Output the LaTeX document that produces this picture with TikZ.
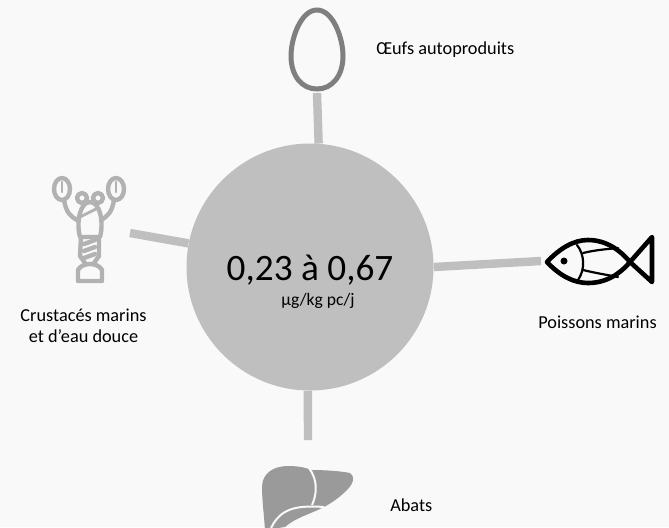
\documentclass[tikz,border=0pt]{standalone}
\usepackage{fontspec}
\setmainfont{Carlito}
\usetikzlibrary{positioning,calc,backgrounds}
\definecolor{hubgrey}{HTML}{BFBFBF}
\definecolor{eggrey}{HTML}{7F7F7F}
\definecolor{crustgrey}{HTML}{B2B2B2}
\definecolor{livergrey}{HTML}{9A9A9A}
\definecolor{paper}{HTML}{F9F9F9}
\begin{document}
\begin{tikzpicture}[x=0.25mm, y=-0.25mm,
    every node/.style={font=\fontsize{13}{15}\selectfont, text=black, align=center, inner sep=0pt},
    spoke/.style={hubgrey, line width=2.1mm},
    crust/.style={crustgrey, line width=1.1mm, line cap=round, line join=round},
    fishline/.style={black, line cap=round, line join=round}]
        \clip (0,0) rectangle (669,527);
        \fill[paper] (0,0) rectangle (669,527);

        % Central disc
        \node[circle, fill=hubgrey, minimum size=247*0.25mm] (hub) at (310,267) {};
        \node[font=\fontsize{26.5}{28}\selectfont, anchor=base] (dose) at (310,280) {0,23 à 0,67};
        \node[font=\fontsize{12.5}{14}\selectfont, anchor=base] (unit) at (318,305) {µg/kg pc/j};

        % Connectors
        \coordinate (eggEnd) at (317,93);
        \coordinate (crustEnd) at (130,233);
        \coordinate (fishEnd) at (541,261);
        \coordinate (liverEnd) at (308,440);
        \draw[spoke] (hub.86.75) -- (eggEnd);
        \draw[spoke] (hub.169.5) -- (crustEnd);
        \draw[spoke] (hub.0.9) -- (fishEnd);
        \draw[spoke] (hub.-91) -- (liverEnd);

        % Egg
        \draw[eggrey, line width=1.25mm] (317,10) .. controls (333,10) and (343,38) .. (343,56)
            .. controls (343,76) and (332,89) .. (317,89)
            .. controls (302,89) and (291,76) .. (291,56)
            .. controls (291,38) and (301,10) .. (317,10) -- cycle;

        % Crustacean
        \foreach \x/\s in {62/1,116/-1} {
            \draw[crust] (\x,189) ellipse (8 and 11);
            \draw[crust, line width=0.6mm] (\x,182) -- (\x,192);
            \draw[crust] (\x+2*\s,200) .. controls (\x+4*\s,212) and (\x+8*\s,216) .. (\x+15*\s,220);
        }
        \draw[crust] (82,198) circle (5);
        \draw[crust] (98,198) circle (5);
        \draw[crust] (80,237) .. controls (76,222) and (80,202) .. (90,202)
            .. controls (100,202) and (104,222) .. (100,237) -- cycle;
        \draw[crust, line width=0.7mm] (80,217) -- (98,208);
        \draw[crust] (81,237) -- (80,256) -- (85,263);
        \draw[crust] (99,237) -- (99,256) -- (94,263);
        \foreach \y in {243,250,257} {
            \draw[crust] (84,\y+1) -- (95,\y-3);
        }
        \draw[crust] (78,281) -- (102,281) -- (102,270) .. controls (100,266) and (95,264) .. (90,264)
            .. controls (85,264) and (80,266) .. (78,270) -- cycle;

        % Fish
        \draw[fishline, line width=1.15mm] (547,262) .. controls (560,248) and (574,240) .. (588,240)
            .. controls (606,240) and (620,250) .. (630,262)
            -- (652,237) -- (652,282) -- (630,262)
            .. controls (620,274) and (606,283) .. (588,283)
            .. controls (574,283) and (560,276) .. (547,262) -- cycle;
        \fill[black] (564,261) circle (3.5);
        \draw[fishline, line width=0.55mm] (577,245) .. controls (585,255) and (585,270) .. (578,280);
        \draw[fishline, line width=0.55mm] (583,253) .. controls (595,250) and (608,249) .. (618,248);
        \draw[fishline, line width=0.55mm] (583,270) .. controls (595,273) and (608,275) .. (618,277);

        % Liver
        \fill[livergrey] (262,487) .. controls (262,473) and (274,466) .. (288,466)
            .. controls (296,466) and (304,467) .. (312,470)
            .. controls (325,470) and (340,471) .. (350,473)
            .. controls (355,476) and (354,483) .. (347,490)
            .. controls (340,497) and (332,503) .. (322,508)
            .. controls (310,514) and (295,518) .. (285,527)
            -- (265,530) .. controls (264,515) and (262,500) .. (262,487) -- cycle;
        \draw[paper, line width=0.5mm] (309,468) .. controls (318,480) and (317,494) .. (312,505);
        \draw[paper, line width=0.5mm] (324,507) .. controls (310,506) and (295,506) .. (285,512)
            .. controls (278,516) and (274,522) .. (271,528);

        % Labels
        \node[right=0pt] (eggLabel) at (376,50) {Œufs autoproduits};
        \node (crustLabel) at (83.5,326) {Crustacés marins\\et d’eau douce};
        \node (fishLabel) at (597.5,322) {Poissons marins};
        \node[right=0pt] (liverLabel) at (390,505) {Abats};
\end{tikzpicture}
\end{document}
